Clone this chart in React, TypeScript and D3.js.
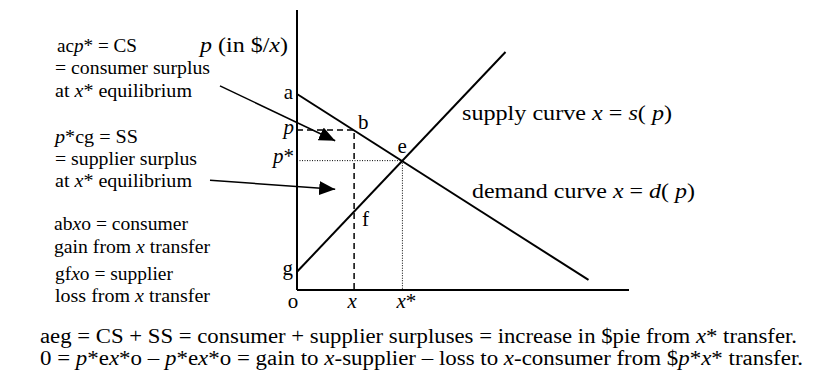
import React from "react";
import * as d3 from "d3";

const W = 817;
const H = 377;

// quantity (x) and price (p) in chart units
const demandPts: [number, number][] = [[0, 7.0], [8.78, 0.36]];
const supplyPts: [number, number][] = [[0, 0.65], [6.28, 8.5]];
const qX = 1.72;
const pX = 5.71;
const qStar = 3.175;
const pStar = 4.62;
const pF = 2.8;

const axisLabels = ["a", "p", "p*", "g", "o", "x", "x*"];
const pointLabels = ["b", "e", "f"];

const leftNotes: [string, boolean][][] = [
  [["ac", false], ["p", true], ["* = CS", false]],
  [["= consumer surplus", false]],
  [["at ", false], ["x", true], ["* equilibrium", false]],
  [["p", true], ["*cg = SS", false]],
  [["= supplier surplus", false]],
  [["at ", false], ["x", true], ["* equilibrium", false]],
  [["ab", false], ["x", true], ["o = consumer", false]],
  [["gain from ", false], ["x", true], [" transfer", false]],
  [["gf", false], ["x", true], ["o = supplier", false]],
  [["loss from ", false], ["x", true], [" transfer", false]],
];
const leftNoteY = [52, 74, 97, 143, 165, 187, 230, 253, 280, 302];
const leftNoteX = [57, 55, 55, 55, 55, 55, 54, 54, 55, 55];
const leftNoteW = [80, 155, 137, 83, 142, 137, 134, 156, 118, 155];

const bottomLines: [string, boolean][][] = [
  [["aeg = CS + SS = consumer + supplier surpluses = increase in $pie from ", false], ["x", true], ["* transfer.", false]],
  [["0 = ", false], ["p", true], ["*e", false], ["x", true], ["*o \u2013 ", false], ["p", true], ["*e", false], ["x", true], ["*o = gain to ", false], ["x", true], ["-supplier \u2013 loss to ", false], ["x", true], ["-consumer from $", false], ["p", true], ["*", false], ["x", true], ["* transfer.", false]],
];
const bottomW = [757, 763];

// arrow annotations (chart units)
const arrow1: [number, number][] = [[-2.32, 7.29], [1.15, 5.33]];
const arrow2: [number, number][] = [[-2.62, 3.92], [1.15, 3.6]];

const FONT = "'Liberation Serif', 'Times New Roman', serif";

function Parts({ parts }: { parts: [string, boolean][] }) {
  return (
    <>
      {parts.map(([t, it], i) => (
        <tspan key={i} fontStyle={it ? "italic" : "normal"}>{t}</tspan>
      ))}
    </>
  );
}

export default function App() {
  const x = d3.scaleLinear().domain([0, 10]).range([297, 629]);
  const y = d3.scaleLinear().domain([0, 10]).range([290, 10]);
  const line = d3.line<[number, number]>().x((d) => x(d[0])).y((d) => y(d[1]));

  return (
    <svg width={W} height={H} style={{ position: "absolute", left: 0, top: 0, background: "#fff" }} fontFamily={FONT}>
      <defs>
        <marker id="ah" markerUnits="userSpaceOnUse" markerWidth={18} markerHeight={14} refX={16} refY={7} orient="auto">
          <path d="M0,0 L16,7 L0,14 Z" fill="#000" />
        </marker>
      </defs>
      <rect width={W} height={H} fill="#fff" />
      {/* axes */}
      <line x1={x(0)} y1={y(10)} x2={x(0)} y2={y(0)} stroke="#000" strokeWidth={2} />
      <line x1={x(0)} y1={y(0)} x2={x(10)} y2={y(0)} stroke="#000" strokeWidth={2} />
      {/* curves */}
      <path d={line(demandPts) || ""} stroke="#000" strokeWidth={2} fill="none" />
      <path d={line(supplyPts) || ""} stroke="#000" strokeWidth={2} fill="none" />
      {/* dashed p, x */}
      <path d={line([[0, pX], [qX, pX], [qX, 0]]) || ""} stroke="#000" strokeWidth={1.5} strokeDasharray="6,4" fill="none" />
      {/* dotted p*, x* */}
      <path d={line([[0, pStar], [qStar, pStar], [qStar, 0]]) || ""} stroke="#000" strokeWidth={1} strokeDasharray="1,1.5" fill="none" />
      {/* arrows */}
      <path d={line(arrow1) || ""} stroke="#000" strokeWidth={1.5} fill="none" markerEnd="url(#ah)" />
      <path d={line(arrow2) || ""} stroke="#000" strokeWidth={1.5} fill="none" markerEnd="url(#ah)" />

      {/* axis title */}
      <text x={200} y={52} fontSize={21} textLength={88} lengthAdjust="spacingAndGlyphs">
        <tspan fontStyle="italic">p</tspan> (in $/<tspan fontStyle="italic">x</tspan>)
      </text>

      {/* axis labels */}
      <text x={x(0) - 4} y={y(7.0) + 5} fontSize={21} textAnchor="end">{axisLabels[0]}</text>
      <text x={x(0) - 3} y={y(pX) + 4} fontSize={21} textAnchor="end" fontStyle="italic">{axisLabels[1]}</text>
      <text x={x(0) - 3} y={y(pStar) + 2} fontSize={21} textAnchor="end"><tspan fontStyle="italic">p</tspan>*</text>
      <text x={x(0) - 4} y={y(0.65) + 3} fontSize={21} textAnchor="end">{axisLabels[3]}</text>
      <text x={x(0) - 4} y={y(0) + 18} fontSize={21} textAnchor="middle">{axisLabels[4]}</text>
      <text x={x(qX) - 2} y={y(0) + 18} fontSize={21} textAnchor="middle" fontStyle="italic">{axisLabels[5]}</text>
      <text x={x(qStar) + 4} y={y(0) + 18} fontSize={21} textAnchor="middle"><tspan fontStyle="italic">x</tspan>*</text>

      {/* point labels */}
      <text x={x(qX) + 4} y={y(pX) - 1} fontSize={21}>{pointLabels[0]}</text>
      <text x={x(qStar) - 5} y={y(pStar) - 8} fontSize={21}>{pointLabels[1]}</text>
      <text x={x(qX) + 8} y={y(pF) + 14} fontSize={21}>{pointLabels[2]}</text>

      {/* curve labels */}
      <text x={462} y={120} fontSize={21} textLength={210} lengthAdjust="spacingAndGlyphs">
        supply curve <tspan fontStyle="italic">x</tspan> = <tspan fontStyle="italic">s</tspan>( <tspan fontStyle="italic">p</tspan>)
      </text>
      <text x={472} y={198} fontSize={21} textLength={223} lengthAdjust="spacingAndGlyphs">
        demand curve <tspan fontStyle="italic">x</tspan> = <tspan fontStyle="italic">d</tspan>( <tspan fontStyle="italic">p</tspan>)
      </text>

      {/* left notes */}
      {leftNotes.map((n, i) => (
        <text key={i} x={leftNoteX[i]} y={leftNoteY[i]} fontSize={18} textLength={leftNoteW[i]} lengthAdjust="spacingAndGlyphs">
          <Parts parts={n} />
        </text>
      ))}

      {/* bottom lines */}
      {bottomLines.map((l, i) => (
        <text key={i} x={40} y={343 + i * 22} fontSize={20} textLength={bottomW[i]} lengthAdjust="spacingAndGlyphs">
          <Parts parts={l} />
        </text>
      ))}
    </svg>
  );
}
